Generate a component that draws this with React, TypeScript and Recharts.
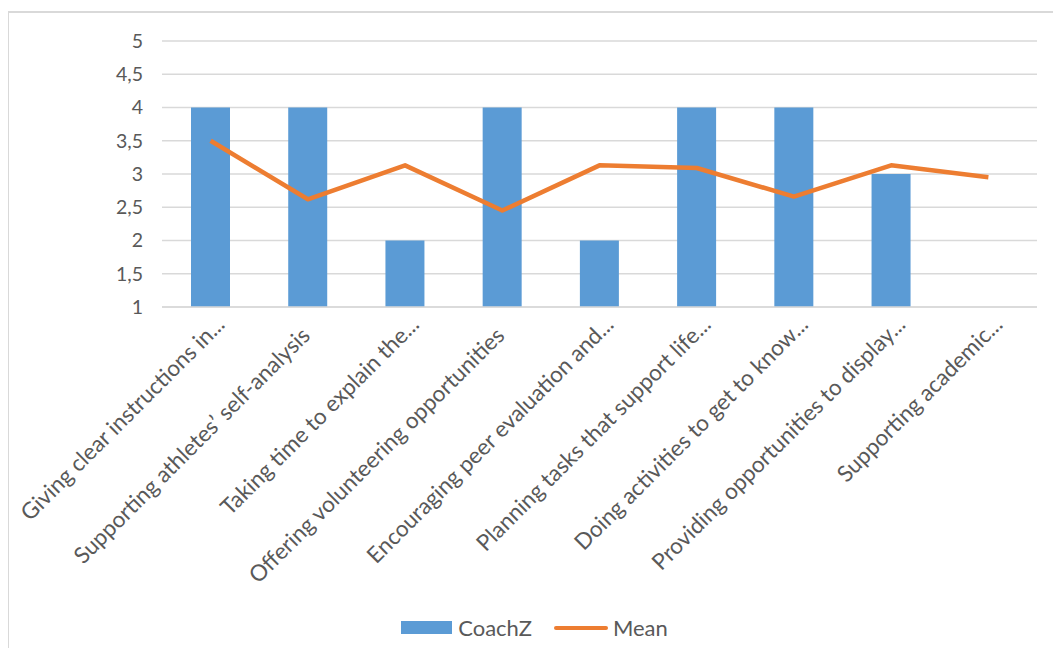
import { ComposedChart, Bar, Line, XAxis, YAxis, CartesianGrid, Legend } from "recharts";

const categories = [
  "Giving clear instructions in...",
  "Supporting athletes’ self-analysis",
  "Taking time to explain the...",
  "Offering volunteering opportunities",
  "Encouraging peer evaluation and...",
  "Planning tasks that support life...",
  "Doing activities to get to know...",
  "Providing opportunities to display...",
  "Supporting academic...",
];
const coachZ = [4, 4, 2, 4, 2, 4, 4, 3, null];
const mean = [3.5, 2.62, 3.13, 2.45, 3.13, 3.09, 2.66, 3.13, 2.95];
const yTicks = [1, 1.5, 2, 2.5, 3, 3.5, 4, 4.5, 5];

const data = categories.map((name, i) => ({ name, CoachZ: coachZ[i], Mean: mean[i] }));

const BLUE = "#5B9BD5";
const ORANGE = "#ED7D31";
const TEXT = "#595959";
const FONT = "Lato, 'Open Sans', sans-serif";

const fmt = (v: number) => String(v).replace(".", ",");

// truncated labels sit a little further out along the slant than full ones
function CategoryTick({ x, y, payload }: any) {
  const cut = String(payload.value).endsWith("...");
  const dx = cut ? 15.5 : 3.5;
  const dy = cut ? 11 : 22;
  return (
    <g transform={`translate(${x + dx},${y + dy})`}>
      <text
        transform="rotate(-45)"
        textAnchor="end"
        fill={TEXT}
        fontSize={22.5}
        fontFamily={FONT}
      >
        {payload.value}
      </text>
    </g>
  );
}

function LegendBox() {
  return (
    <div
      style={{
        display: "flex",
        alignItems: "center",
        justifyContent: "center",
        fontFamily: FONT,
        fontSize: 22,
        color: TEXT,
        paddingLeft: 8,
      }}
    >
      <span style={{ display: "inline-block", width: 51, height: 13, background: BLUE, marginRight: 6 }} />
      <span style={{ marginRight: 22 }}>CoachZ</span>
      <span
        style={{ display: "inline-block", width: 54, height: 4, borderRadius: 2, background: ORANGE, marginRight: 5 }}
      />
      <span>Mean</span>
    </div>
  );
}

export default function App() {
  return (
    <div style={{ position: "relative" }}>
      <div
        style={{
          position: "absolute",
          left: -1,
          top: 3,
          width: 1100,
          height: 700,
          borderLeft: "2px solid #d9d9d9",
          borderTop: "2px solid #d9d9d9",
          boxSizing: "border-box",
        }}
      />
      <ComposedChart
        width={1045}
        height={640}
        data={data}
        margin={{ top: 33, right: 16, bottom: 10, left: 94 }}
        barCategoryGap={0}
      >
        <CartesianGrid vertical={false} stroke="#d9d9d9" strokeWidth={1.3} />
        <XAxis
          dataKey="name"
          interval={0}
          tick={<CategoryTick />}
          tickLine={false}
          axisLine={{ stroke: "#d9d9d9", strokeWidth: 1.3 }}
          height={304}
        />
        <YAxis
          domain={[1, 5]}
          ticks={yTicks}
          tickFormatter={fmt}
          tickLine={false}
          axisLine={false}
          tickMargin={13}
          width={60}
          tick={{ fill: TEXT, fontSize: 19.5, fontFamily: FONT }}
        />
        <Legend content={<LegendBox />} wrapperStyle={{ top: 606, left: 0, width: 1045 }} />
        <Bar dataKey="CoachZ" fill={BLUE} barSize={39} isAnimationActive={false} />
        <Line
          dataKey="Mean"
          type="linear"
          stroke={ORANGE}
          strokeWidth={4.5}
          strokeLinejoin="round"
          dot={false}
          activeDot={false}
          isAnimationActive={false}
        />
      </ComposedChart>
    </div>
  );
}
